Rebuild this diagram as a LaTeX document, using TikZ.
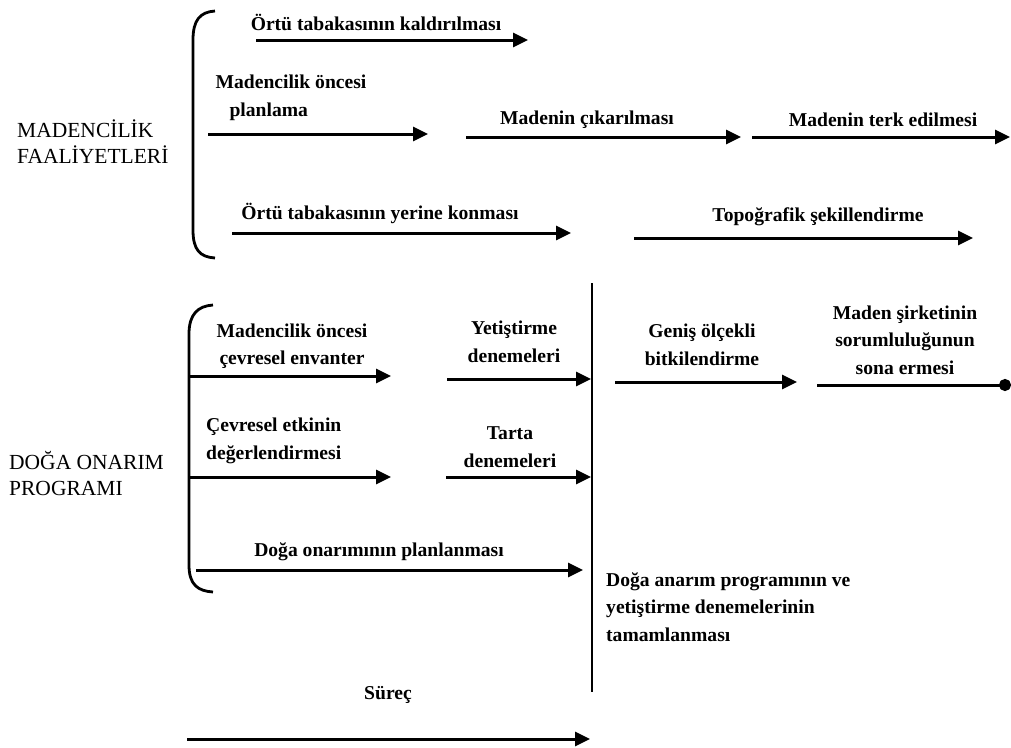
\documentclass[tikz,border=0pt]{standalone}
\usepackage{fontspec}
\setmainfont{Liberation Serif}
\usetikzlibrary{arrows.meta}
\tikzset{
  lbl/.style={inner sep=0pt, font=\fontsize{19.6}{27.5}\selectfont\bfseries, align=center},
  sidelbl/.style={inner sep=0pt, font=\fontsize{21.5}{26}\selectfont, align=left, anchor=west},
  arr/.style={line width=3pt, -{Triangle[length=15pt,width=14pt]}},
  endln/.style={line width=3pt, -{Circle[length=12pt]}},
  brk/.style={line width=2.8pt},
  vline/.style={line width=2.8pt}
}
\begin{document}
\begin{tikzpicture}[x=1pt,y=-1pt]
\useasboundingbox (0,0) rectangle (1011,747);
% --- side labels
\node[sidelbl] (mf) at (17,142) {MADENC\.{I}L\.{I}K\\FAAL\.{I}YETLER\.{I}};
\node[sidelbl] (dop) at (9,473) {DOĞA ONARIM\\PROGRAMI};
% --- brackets
\draw[brk] (215,11) .. controls (200,12) and (193,20) .. (193,40) -- (193,230) .. controls (193,250) and (200,257) .. (215,258);
\draw[brk] (213,305) .. controls (198,306) and (189,314) .. (189,334) -- (189,565) .. controls (189,585) and (198,591) .. (213,592);
% --- top labels
\node[lbl] (t1) at (376,22) {Örtü tabakasının kaldırılması};
\node[lbl, align=left] (t2) at (291,98) {Madencilik öncesi\\\hspace*{14pt}planlama};
\node[lbl] (t3) at (587,120) {Madenin çıkarılması};
\node[lbl] (t4) at (883,120) {Madenin terk edilmesi};
\node[lbl] (t5) at (380,213) {Örtü tabakasının yerine konması};
\node[lbl] (t6) at (818,217) {Topoğrafik şekillendirme};
% --- top arrows
\coordinate (a1s) at (256,40); \coordinate (a1e) at (528,40);
\coordinate (a2s) at (208,134); \coordinate (a2e) at (428,134);
\coordinate (a3s) at (466,137); \coordinate (a3e) at (741,137);
\coordinate (a4s) at (752,137); \coordinate (a4e) at (1010,137);
\coordinate (a5s) at (232,233); \coordinate (a5e) at (571,233);
\coordinate (a6s) at (634,238); \coordinate (a6e) at (973,238);
\draw[arr] (a1s) -- (a1e);
\draw[arr] (a2s) -- (a2e);
\draw[arr] (a3s) -- (a3e);
\draw[arr] (a4s) -- (a4e);
\draw[arr] (a5s) -- (a5e);
\draw[arr] (a6s) -- (a6e);
% --- vertical line
\coordinate (vt) at (592,283); \coordinate (vb) at (592,692);
\draw[vline] (vt) -- (vb);
% --- bottom labels
\node[lbl] (b1) at (292,346) {Madencilik öncesi\\çevresel envanter};
\node[lbl] (b2) at (514,342) {Yetiştirme\\denemeleri};
\node[lbl, align=left, anchor=west] (b3) at (206,441) {Çevresel etkinin\\değerlendirmesi};
\node[lbl] (b4) at (510,447) {Tarta\\denemeleri};
\node[lbl] (b5) at (379,552) {Doğa onarımının planlanması};
\node[lbl] (b6) at (702,345) {Geniş ölçekli\\bitkilendirme};
\node[lbl] (b7) at (905,340) {Maden şirketinin\\sorumluluğunun\\sona ermesi};
\node[lbl, align=left, anchor=west] (b8) at (606,607) {Doğa anarım programının ve\\yetiştirme denemelerinin\\tamamlanması};
\node[lbl] (sc) at (388,695) {Süreç};
% --- bottom arrows
\coordinate (c1s) at (189,376); \coordinate (c1e) at (391,376);
\coordinate (c2s) at (447,379); \coordinate (c2e) at (591,379);
\coordinate (c3s) at (189,477); \coordinate (c3e) at (391,477);
\coordinate (c4s) at (446,477); \coordinate (c4e) at (591,477);
\coordinate (c5s) at (196,570); \coordinate (c5e) at (583,570);
\coordinate (c6s) at (615,382); \coordinate (c6e) at (797,382);
\coordinate (c7s) at (817,385); \coordinate (c7e) at (1011,385);
\coordinate (c8s) at (187,739); \coordinate (c8e) at (590,739);
\draw[arr] (c1s) -- (c1e);
\draw[arr] (c2s) -- (c2e);
\draw[arr] (c3s) -- (c3e);
\draw[arr] (c4s) -- (c4e);
\draw[arr] (c5s) -- (c5e);
\draw[arr] (c6s) -- (c6e);
\draw[endln] (c7s) -- (c7e);
\draw[arr] (c8s) -- (c8e);
\end{tikzpicture}
\end{document}
